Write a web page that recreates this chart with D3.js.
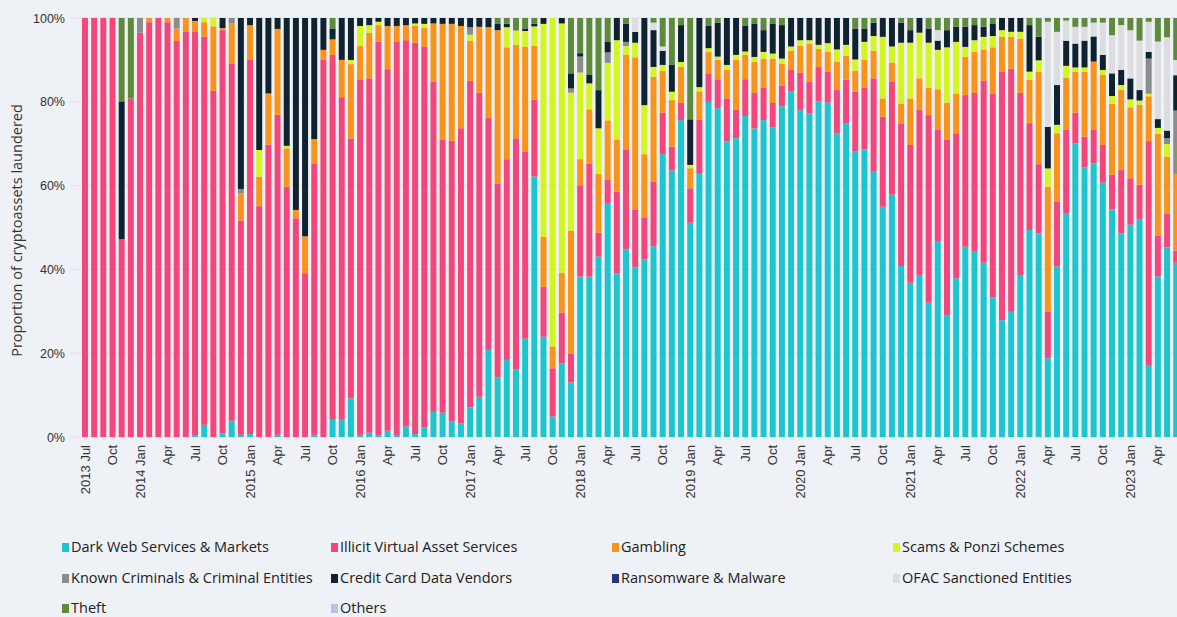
<!DOCTYPE html>
<html>
<head>
<meta charset="utf-8">
<script src="https://cdn.jsdelivr.net/npm/d3@7"></script>
<style>
  body { margin: 0; background: #eef1f5; }
  svg { display: block; font-family: "Open Sans", "Noto Sans", sans-serif; }
  .tick text { fill: #333; }
  .legend text { fill: #222; }
</style>
</head>
<body>
<svg id="chart"></svg>
<script>
// categories (stack order, bottom to top)
var categories = ["Dark Web Services & Markets", "Illicit Virtual Asset Services", "Gambling",
    "Scams & Ponzi Schemes", "Known Criminals & Criminal Entities", "Credit Card Data Vendors",
    "Ransomware & Malware", "OFAC Sanctioned Entities", "Theft", "Others"];
var colors = ["#1dc6cf", "#f5467c", "#fa931b", "#d4f51f", "#8c8c8c", "#0f2230",
    "#23387a", "#dcdde0", "#5d8a3b", "#b3c5e0"];

// months Jul 2013 .. Jun 2023 (last one is cut off by the frame)
var months = d3.timeMonth.range(new Date(2013, 6, 1), new Date(2023, 6, 1));

// share of each month, per category (percent)
var darkWeb = [
    0,0,0,0,0,0,0,0,0,0,
    0,0,.5,2.9,0,.9,3.9,.5,.7,0,
    0,.5,0,0,0,.5,0,4.1,4.1,9.2,
    .5,1,.5,1.5,.5,2.5,.7,2.3,6,5.8,
    3.7,3.3,7.1,9.6,20.8,14.2,18.4,16.1,23.5,62.1,
    23.9,4.9,17.6,13,38.3,38.3,43,55.6,39.1,44.8,
    40.5,42.4,45.6,67.5,63.6,75.7,51.2,62.8,80,78.4,
    70.5,71.3,76.6,73.7,75.7,73.9,79,82.4,78,77.2,
    80,79.8,72.5,74.7,68.1,68.7,63.3,55,57.8,40.8,
    36.8,38.7,32.1,46.6,29.1,37.9,45.4,44.2,41.6,33.3,
    27.9,29.9,38.7,49.4,48.6,18.8,40.7,53.4,70.1,64.4,
    65.3,60.7,54.3,48.6,50.6,52,17.2,38.3,45.3,41.4];
var illicitVAS = [
    100,100,100,100,47.2,80.8,96.5,99,100,99,
    94.5,96.7,96.3,92.7,82.6,96.2,85.3,51.2,89.4,55.1,
    69.8,76.4,59.7,52.2,39.1,64.7,90,87.1,77,62,
    84.7,84.6,94.2,86.2,94.2,92.3,93.4,90.7,78.8,65.1,
    67,70.4,77.9,72.6,55.3,46.3,47.9,55.1,44.6,18.3,
    11.9,11.5,12.1,6.8,21.6,26.9,5.7,5.7,19.5,23.7,
    13.7,10,15.4,9.9,5.7,4.1,8.2,12.9,6.8,6.9,
    10.3,6.8,8.8,8.5,7.8,5.9,5,5.2,9,7.6,
    8.2,7.4,10.3,10.5,14.3,14.8,22.3,21.5,27,33.9,
    32.9,39.4,44.8,26.7,41.9,34.6,36.2,37.9,43.4,48.7,
    59.3,58.1,43.5,25.5,16.5,11.1,15.5,19.9,7.3,7.3,
    8,9,8.2,15.1,11.1,8.2,53.5,9.7,8,2.8];
var gambling = [
    0,0,0,0,0,0,0,1,0,1,
    3,3.3,2.5,3.4,15.4,.5,9.5,6.5,8.2,7,
    12.2,20.5,9.2,2,8.8,5.9,2.4,3.7,8.9,17.7,
    8.1,10.9,4,10.3,3.7,3.6,4,4.5,13.9,27.7,
    27.9,24.4,9.6,15.8,21.7,36.6,26.7,22.3,25.1,12.9,
    11.9,5.2,9.5,29.4,6.4,13,14,14.2,12.5,22.7,
    36.4,15.1,25.1,10,11.1,8.6,4.8,6.8,5.2,4.6,
    6.8,11.9,5.8,7.4,6.9,10.6,5.2,4.6,6.4,9.1,
    4.3,4.8,6.8,5.7,5,6.7,6.6,4.4,4.5,4.9,
    11.1,7.6,6.6,9.7,8.8,9.5,9.1,9.8,7.5,11,
    8.4,7.6,13,10.3,22,29.8,16.3,12.3,9.8,15.5,
    16.3,16.7,16.9,19.1,16.9,19.1,10.7,24.3,13.7,18.3];
var scams = [
    0,0,0,0,0,0,0,0,0,0,
    0,0,0,1,2,0,0,0,0,6.4,
    0,0,.6,0,0,0,0,0,0,1,
    4.8,1.8,.8,0,0,0,.6,1,0,0,
    0,0,1.4,0,0,0,4.8,3.4,3.8,4.6,
    50.8,78.4,59.5,32.9,20.7,6.2,10.9,13.7,23.7,2.1,
    3.5,11.7,2.4,1.4,2,1.2,.8,1,.8,.8,
    1.2,1.2,.8,1.2,1.6,1.2,1.2,1,1.3,.8,
    1,2,2.9,2.6,2.7,4.2,3.5,14.7,3.8,14.5,
    13.3,10.9,10.7,9.4,13.2,12.3,2.4,2.8,3,2.7,
    1.6,1.2,1.6,2,2.8,4.4,2,2.9,1,1,
    0,1.2,1.9,1.2,1.9,1,.6,1.4,3,0];
var knownCriminals = [
    0,0,0,0,0,0,3.5,0,0,0,
    2.5,0,0,0,0,0,1.3,1,0,0,
    0,0,0,0,0,0,0,0,0,0,
    0,0,0,0,0,0,0,0,0,0,
    0,0,1.8,0,0,0,0,0,0,0,
    0,0,0,1,3.8,0,0,2.5,0,1,
    0,0,0,0,0,0,0,0,0,0,
    0,0,0,0,0,0,0,0,0,0,
    0,0,0,0,0,0,0,0,0,0,
    0,0,0,0,0,0,0,0,0,0,
    0,0,0,0,0,0,0,0,0,0,
    0,0,0,0,0,0,8.4,0,1.4,15.1];
var creditCard = [
    0,0,0,0,32.9,0,0,0,0,0,
    0,0,.7,0,0,2.4,0,40.8,1.7,31.5,
    18,2.6,30.5,45.8,52.1,28.9,7.6,2.6,10,10,
    1.9,1.7,.9,1.9,1.9,1.7,1.3,1.4,1.3,1.4,
    1.4,1.9,2.2,2.1,2.2,1.6,.8,0,.6,.6,
    1.4,0,1.3,3.6,.8,2,9.1,2.6,5.3,4.4,
    2.6,20.8,8.8,3.4,6.4,8.8,10.9,16.5,5.3,8.1,
    11.2,8.8,6.1,8,5.2,7.2,8,6.8,5.3,5.3,
    6.4,6,7.5,6.4,7.4,3.2,3.2,4.5,6.8,4.8,
    3,3.5,3.4,2.2,4.1,3.6,4.8,3.6,2.4,3,
    2.9,3.3,3.3,11.1,5.6,9.9,9.5,6,5.7,6.4,
    6,3.6,5.4,3.6,5,2.5,1.6,2.1,1.8,8.4];
var ransomware = [
    0,0,0,0,0,0,0,0,0,0, 0,0,0,0,0,0,0,0,0,0, 0,0,0,0,0,0,0,0,0,0,
    0,0,0,0,0,0,0,0,0,0, 0,0,0,0,0,0,0,0,0,0, 0,0,0,0,0,0,0,0,0,0,
    0,0,0,0,0,0,0,0,0,0, 0,0,0,0,0,0,0,0,0,0, 0,0,0,0,0,0,0,0,0,0,
    0,0,0,0,0,0,0,0,0,0, 0,0,0,0,0,0,0,0,0,0, 0,0,0,0,0,0,0,0,0,0];
var ofac = [
    0,0,0,0,0,0,0,0,0,0, 0,0,0,0,0,0,0,0,0,0, 0,0,0,0,0,0,0,0,0,0,
    0,0,0,0,0,0,0,0,0,0, 0,0,0,0,0,0,0,0,0,0, 0,0,0,0,0,0,0,0,0,0,
    3.3,0,1.8,1,0,0,0,0,0,0,
    0,0,0,0,0,0,0,0,0,0,
    0,0,0,0,0,0,0,0,0,0,
    0,0,0,2.5,0,0,0,0,0,0,
    0,0,0,0,0,25.1,12.7,4.8,4,3.3,
    3.3,7.7,9.1,10.7,11.5,11.8,7.2,18.5,22.3,3.6];
var theft = [
    0,0,0,0,19.9,19.2,0,0,0,0,
    0,0,0,0,0,0,0,0,0,0,
    0,0,0,0,0,0,0,2.5,0,0,
    0,0,0,0,0,0,0,0,0,0,
    0,0,0,0,0,1.3,1.4,3,2.5,1.4,
    0,0,0,13.2,8.4,13.6,17.2,5.6,0,1.3,
    0,0,1.1,6.8,11.2,1.7,24.2,0,1.9,1.1,
    0,0,1.9,1.3,2.9,1.3,1.7,0,0,0,
    0,0,0,0,2.5,2.5,1.1,0,0,1.1,
    2.9,0,2.5,2.9,2.9,2.1,2.1,1.7,2.1,1.3,
    0,0,0,1.7,4.5,.9,3.3,.6,2.1,2.1,
    1.1,1.1,4.1,1.7,2.9,5.4,.9,5.6,4.6,10];
var others = [
    0,0,0,0,0,0,0,0,0,0, 0,0,0,0,0,0,0,0,0,0, 0,0,0,0,0,0,0,0,0,0,
    0,0,0,0,0,0,0,0,0,0, 0,0,0,0,0,0,0,0,0,0, 0,0,0,0,0,0,0,0,0,0,
    0,0,0,0,0,0,0,0,0,0, 0,0,0,0,0,0,0,0,0,0, 0,0,0,0,0,0,0,0,0,0,
    0,0,0,0,0,0,0,0,0,0, 0,0,0,0,0,0,0,0,0,0, 0,0,0,0,0,0,0,0,0,0];

var yTicks = [0, 0.2, 0.4, 0.6, 0.8, 1];
var monthNames = ["Jan","Feb","Mar","Apr","May","Jun","Jul","Aug","Sep","Oct","Nov","Dec"];

var series = [darkWeb, illicitVAS, gambling, scams, knownCriminals, creditCard,
    ransomware, ofac, theft, others];

var screen = {width: 1177, height: 617};
var margins = {top: 18, left: 70};
var plotBottom = 437;
var step = 9.17;

var svg = d3.select("#chart")
    .attr("width", screen.width)
    .attr("height", screen.height);

// table for the stack: one row per month
var rows = months.map(function(m, i) {
    var row = {month: m};
    categories.forEach(function(c, k) { row[c] = series[k][i]; });
    return row;
});

var stack = d3.stack()
    .keys(categories)
    .offset(d3.stackOffsetExpand);
var layers = stack(rows);

var xScale = d3.scaleBand()
    .domain(months)
    .range([80.4, 80.4 + step * months.length])
    .paddingInner(0.35)
    .paddingOuter(0.175);
var yScale = d3.scaleLinear()
    .domain([0, 1])
    .range([plotBottom, margins.top]);

//gridlines
svg.append("g")
    .selectAll("line")
    .data(yTicks)
    .enter()
    .append("line")
    .attr("x1", margins.left)
    .attr("x2", screen.width)
    .attr("y1", function(d) { return yScale(d); })
    .attr("y2", function(d) { return yScale(d); })
    .attr("stroke", "#dfe3e8")
    .attr("stroke-width", 1);

//bars
svg.append("g")
    .selectAll("g")
    .data(layers)
    .enter()
    .append("g")
    .attr("fill", function(d, k) { return colors[k]; })
    .selectAll("rect")
    .data(function(d) { return d; })
    .enter()
    .append("rect")
    .attr("x", function(d) { return xScale(d.data.month); })
    .attr("width", xScale.bandwidth())
    .attr("y", function(d) { return yScale(d[1]); })
    .attr("height", function(d) { return yScale(d[0]) - yScale(d[1]); });

//y axis
var yAxis = d3.axisLeft(yScale)
    .tickValues(yTicks)
    .tickFormat(d3.format(".0%"))
    .tickSize(0)
    .tickPadding(5);
svg.append("g")
    .attr("transform", "translate(" + margins.left + ",0)")
    .call(yAxis)
    .call(function(g) { g.select(".domain").remove(); })
    .selectAll("text")
    .style("font-size", "12.5px");

//x axis
var quarterMonths = months.filter(function(m) { return m.getMonth() % 3 == 0; });
var xAxis = d3.axisBottom(xScale)
    .tickValues(quarterMonths)
    .tickSize(0)
    .tickFormat(function(m, i) {
        var name = monthNames[m.getMonth()];
        if (m.getMonth() == 0 || i == 0) return m.getFullYear() + " " + name;
        return name;
    });
svg.append("g")
    .attr("transform", "translate(0," + plotBottom + ")")
    .call(xAxis)
    .call(function(g) { g.select(".domain").remove(); })
    .selectAll("text")
    .style("font-size", "13px")
    .attr("text-anchor", "end")
    .attr("transform", "rotate(-90)")
    .attr("x", -8)
    .attr("y", 0)
    .attr("dy", "0.35em");

//y label
svg.append("text")
    .text("Proportion of cryptoassets laundered")
    .attr("transform", "translate(22," + ((margins.top + plotBottom) / 2 + 3) + ") rotate(-90)")
    .attr("text-anchor", "middle")
    .style("font-size", "14.5px")
    .attr("fill", "#333");

//legend
var legendX = [62, 331, 612, 893];
var legendY = [547, 578, 608];
var legend = svg.append("g")
    .classed("legend", true)
    .selectAll("g")
    .data(categories)
    .enter()
    .append("g")
    .attr("transform", function(d, k) {
        return "translate(" + legendX[k % 4] + "," + legendY[Math.floor(k / 4)] + ")";
    });
legend.append("rect")
    .attr("x", 0)
    .attr("y", -4)
    .attr("width", 7)
    .attr("height", 9)
    .attr("fill", function(d, k) { return colors[k]; });
legend.append("text")
    .text(function(d) { return d; })
    .attr("x", 9)
    .attr("y", 0)
    .attr("dy", "0.35em")
    .style("font-size", "14.5px");
</script>
</body>
</html>
